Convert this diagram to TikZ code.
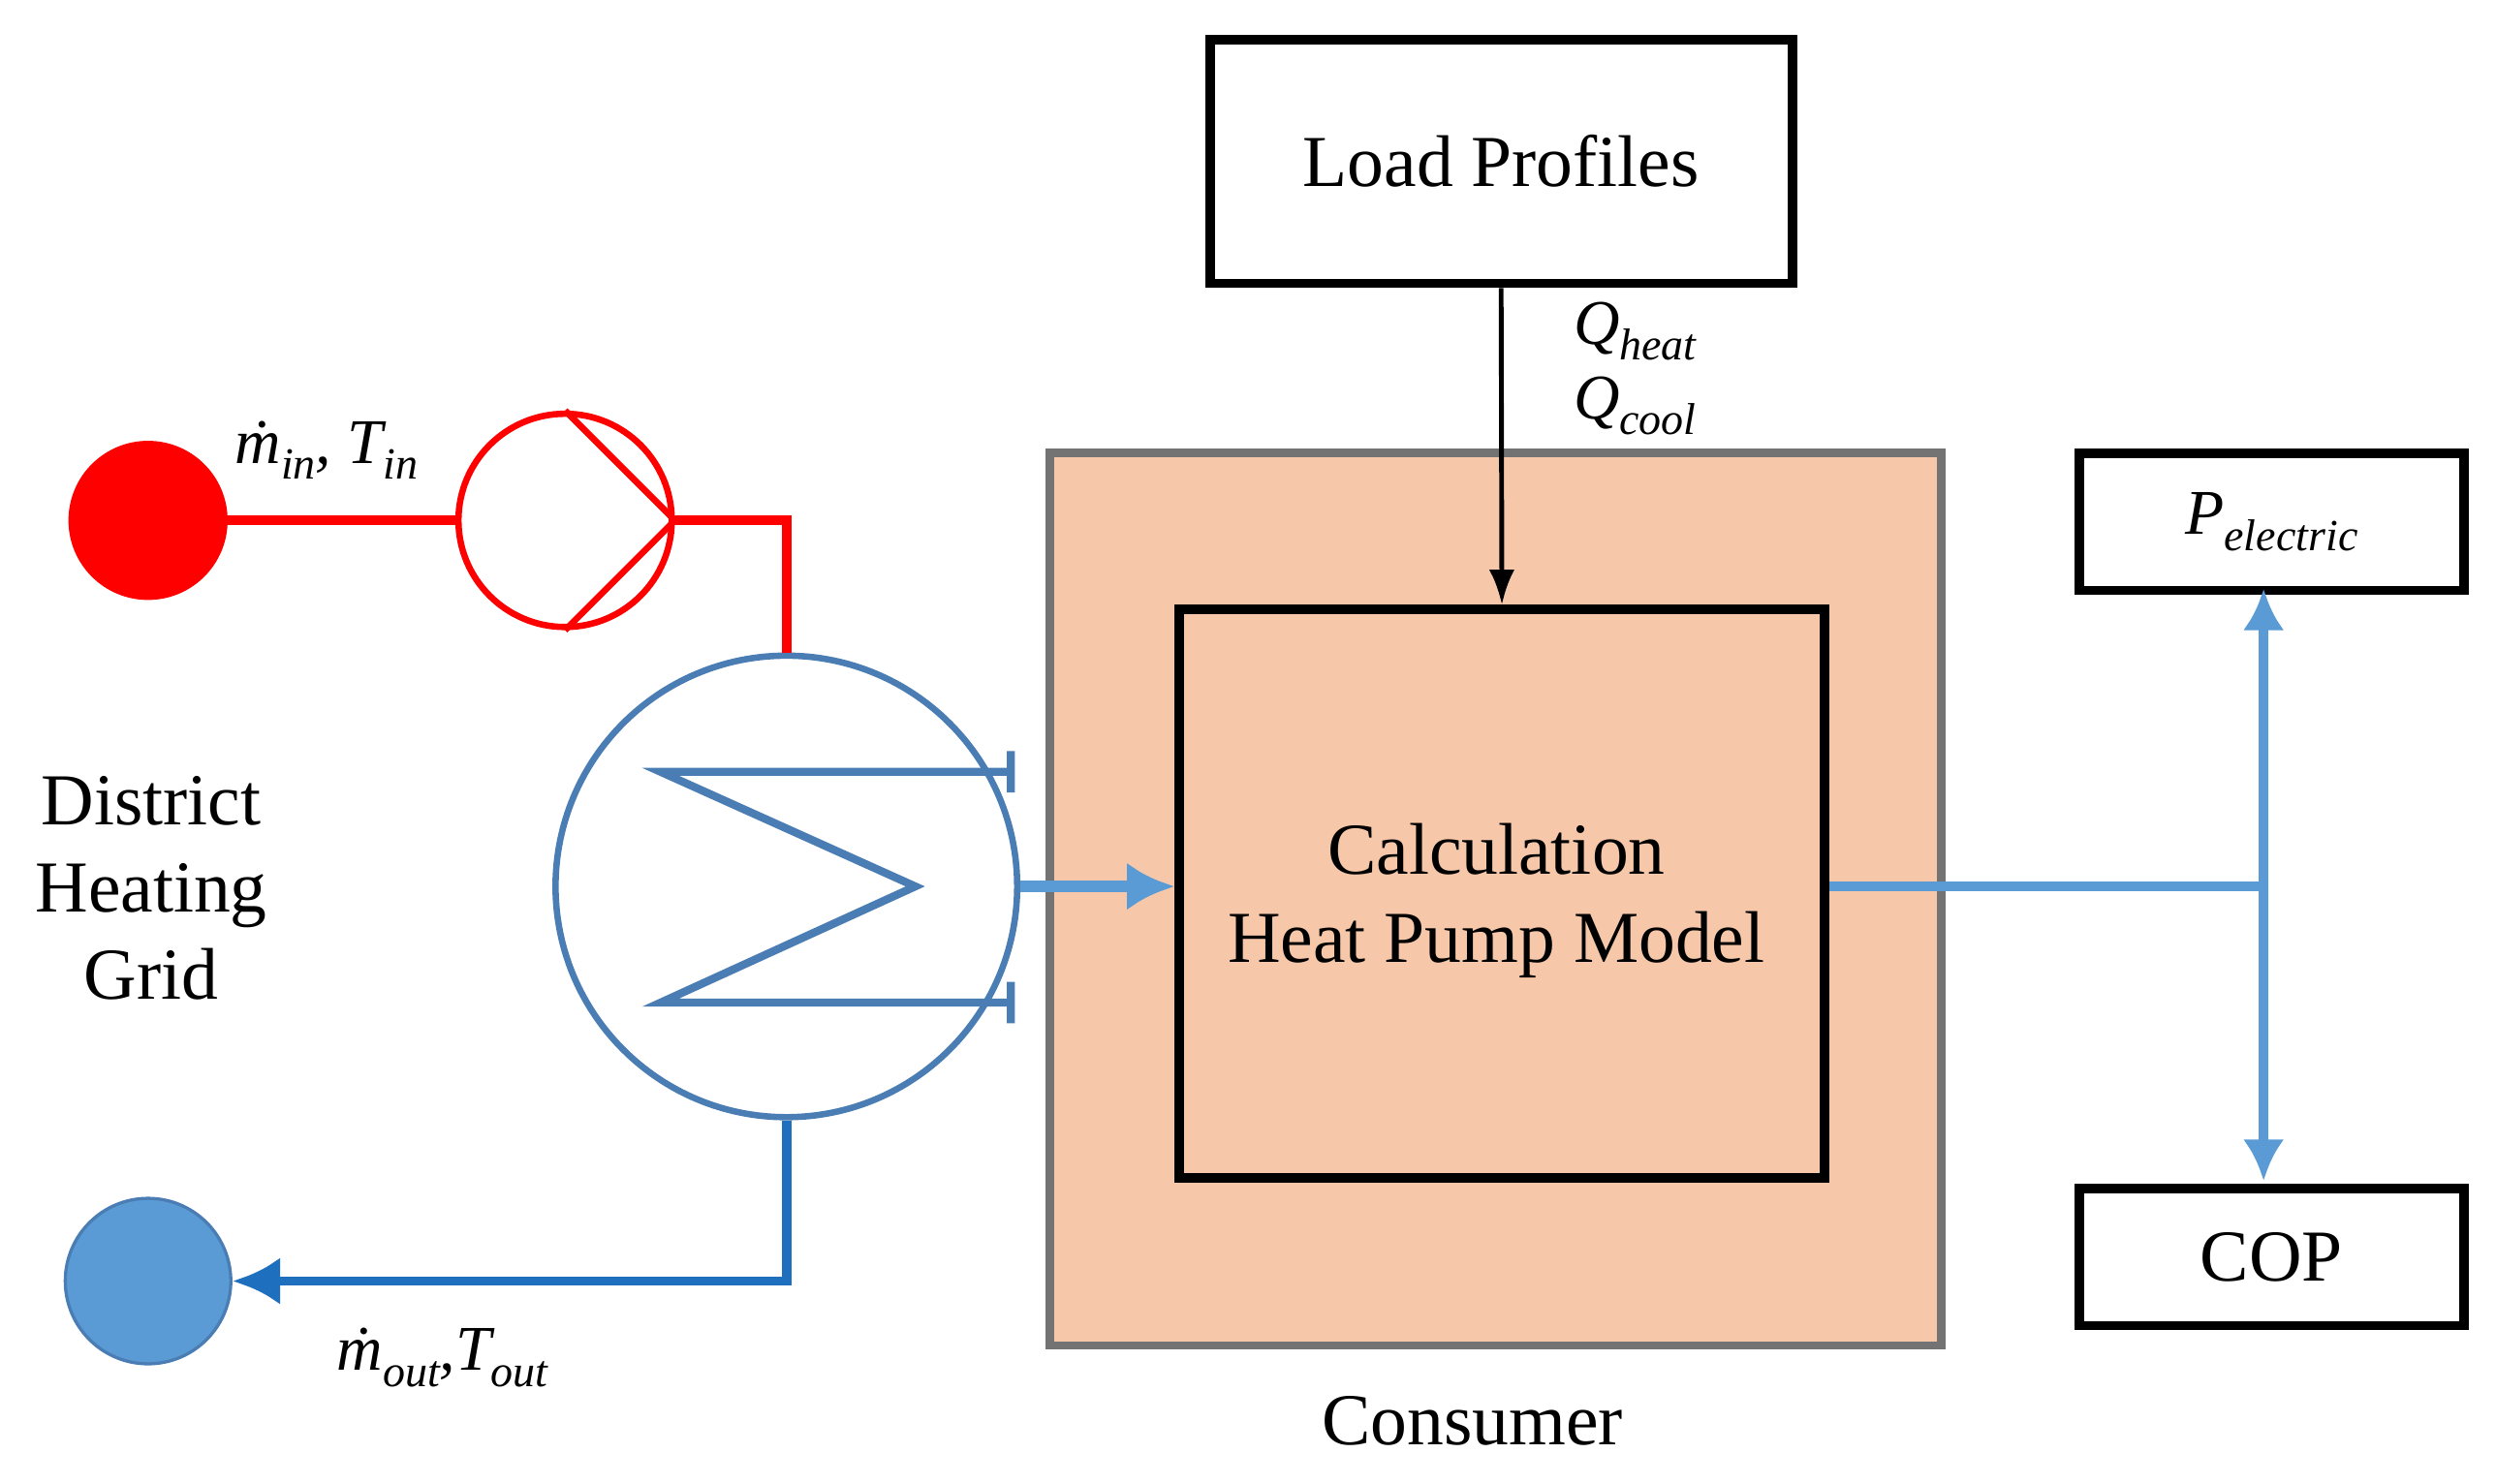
\documentclass[tikz,border=0pt]{standalone}
\usepackage{fontspec}
\setmainfont{Liberation Serif}
\usetikzlibrary{arrows.meta}
\newcommand{\sbi}[1]{\raisebox{-0.25em}{\fontsize{28}{30}\selectfont\textit{#1}}}
\begin{document}
\definecolor{peach}{HTML}{F6C8A9}
\definecolor{hxblue}{HTML}{4A7DB3}
\definecolor{lblue}{HTML}{5B9BD5}
\definecolor{dblue}{HTML}{1F6FBF}
\begin{tikzpicture}[x=1pt,y=-1pt,
  blk/.style={draw=black,line width=6pt},
  big/.style={font=\fontsize{46}{55}\selectfont},
  lab/.style={font=\fontsize{40}{42}\selectfont\itshape}]
\useasboundingbox (0,0) rectangle (1568,932);
% consumer
\node[draw=gray!90!black,line width=5pt,fill=peach,minimum width=560,minimum height=561,inner sep=0,anchor=north west] (cons) at (657,282) {};
\node[big] (conslab) at (925,893) {Consumer};
\node[blk,minimum width=366,minimum height=153,inner sep=0,anchor=north west,big] (load) at (757,22) {Load Profiles};
\node[blk,minimum width=405,minimum height=357,inner sep=0,anchor=north west,fill=peach] (calc) at (738,380) {};
\node[big,align=center] (calctxt) at (940,566) {Calculation\\Heat Pump Model};
\draw[black,line width=3pt,-{Latex[length=22pt,width=16pt]}] (load.south) -- (calc.north);
\node[lab,anchor=west] (qh) at (985,208) {Q\sbi{heat}};
\node[lab,anchor=west] (qc) at (985,255) {Q\sbi{cool}};
% outputs
\node[blk,minimum width=242,minimum height=86,inner sep=0,anchor=north west,lab] (pel) at (1303,282) {P\sbi{electric}};
\node[blk,minimum width=242,minimum height=86,inner sep=0,anchor=north west,big] (cop) at (1303,744) {COP};
\coordinate (j) at (1422,557);
\draw[lblue,line width=6pt] (calc.east |- j) -- (j);
\draw[lblue,line width=6pt,{Latex[length=26pt,width=26pt]}-{Latex[length=26pt,width=26pt]}] (1422,370) -- (1422,742);
% heat exchanger
\node[draw=hxblue,line width=4pt,circle,minimum size=290,inner sep=0] (hx) at (494,557) {};
\draw[hxblue,line width=5pt] (635,472)--(635,498) (635,485) -- (415,485) -- (575,557) -- (415,630) -- (635,630) (635,617)--(635,643);
\draw[lblue,line width=7pt,-{Latex[length=30pt,width=30pt]}] (hx.east) -- (calc.west |- hx.east);
% supply
\node[circle,fill=red,minimum size=100,inner sep=0] (src) at (93,327) {};
\node[circle,draw=red,line width=4pt,minimum size=134,inner sep=0] (pump) at (355,327) {};
\draw[red,line width=4pt] (pump.north) -- (pump.east) -- (pump.south);
\draw[red,line width=6pt] (src.east) -- (pump.west);
\draw[red,line width=6pt] (pump.east) -- (494,327) -- (hx.north);
\node[lab] (min) at (205,283) {\.{m}\sbi{in}, T\sbi{in}};
% return
\node[circle,fill=lblue,draw=hxblue,line width=2pt,minimum size=104,inner sep=0] (ret) at (93,805) {};
\coordinate (c1) at (494,805);
\draw[dblue,line width=6pt,-{Latex[length=30pt,width=30pt]}] (hx.south) -- (c1) -- (ret.east);
\node[lab] (mout) at (278,853) {\.{m}\sbi{out},T\sbi{out}};
\node[big,align=center] (dhg) at (95,558) {District\\Heating\\Grid};
\end{tikzpicture}
\end{document}
